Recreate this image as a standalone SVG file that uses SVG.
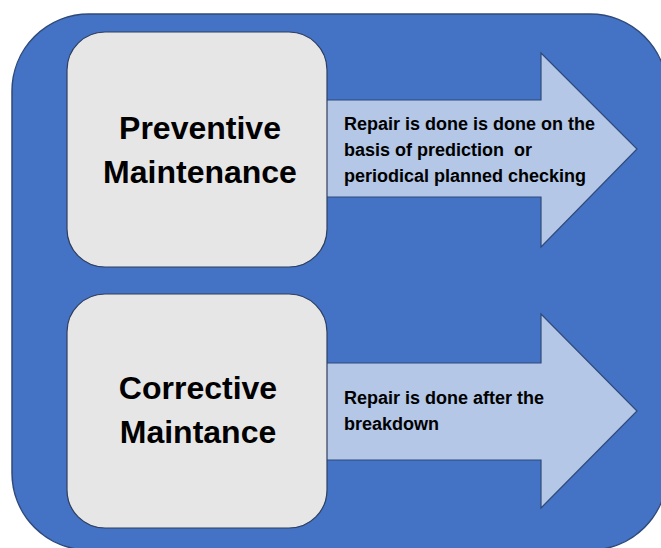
<svg xmlns="http://www.w3.org/2000/svg" width="661" height="548" viewBox="0 0 661 548">
<style>
.bg{fill:#4472C4;stroke:#2F4A7A;stroke-width:1.5}
.box{fill:#E7E6E6;stroke:#2F3F5F;stroke-width:1.2}
.arr{fill:#B4C7E7;stroke:#2F4A7A;stroke-width:1.2;stroke-linejoin:miter}
.title{font-family:"Liberation Sans",Arial,sans-serif;font-weight:bold;font-size:32px;fill:#000;text-anchor:middle}
.desc{font-family:"Liberation Sans",Arial,sans-serif;font-weight:bold;font-size:18px;fill:#000;white-space:pre}
</style>
<rect class="bg" x="12" y="14" width="655" height="536" rx="77" ry="77"/>
<g id="connectors">
<polygon id="arrow1" class="arr" points="320,100 541,100 541,53 637,149 541,247 541,197 320,197"/>
<polygon id="arrow2" class="arr" points="320,363 541,363 541,314 637,411 541,508 541,460 320,460"/>
<text class="desc" x="344" y="130">Repair is done is done on the</text>
<text class="desc" x="344" y="156" xml:space="preserve">basis of prediction  or</text>
<text class="desc" x="344" y="182">periodical planned checking</text>
<text class="desc" x="344" y="404">Repair is done after the</text>
<text class="desc" x="344" y="430">breakdown</text>
</g>
<g id="preventive">
<rect class="box" x="67" y="32" width="260" height="235" rx="38" ry="38"/>
<text class="title" x="200" y="139">Preventive</text>
<text class="title" x="200" y="183">Maintenance</text>
</g>
<g id="corrective">
<rect class="box" x="67" y="294" width="260" height="234" rx="38" ry="38"/>
<text class="title" x="198" y="399">Corrective</text>
<text class="title" x="198" y="443">Maintance</text>
</g>
</svg>
